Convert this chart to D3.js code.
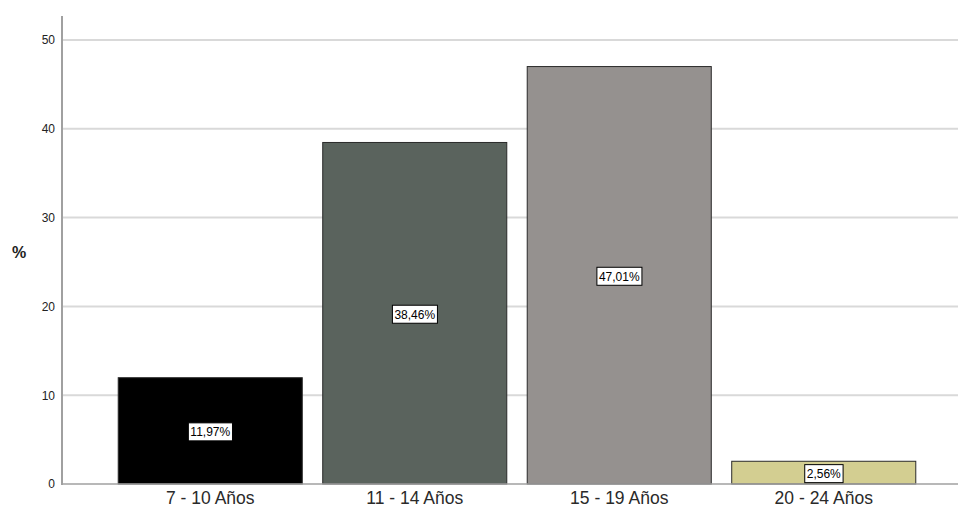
<!DOCTYPE html>
<html><head><meta charset="utf-8">
<script src="https://cdn.jsdelivr.net/npm/d3@7"></script>
<style>body{margin:0;background:#fff;}svg{display:block;font-family:"Liberation Sans",Arial,sans-serif;}</style>
</head><body>
<svg id="chart" width="958" height="508"></svg>
<script>
const categories = ["7 - 10 Años", "11 - 14 Años", "15 - 19 Años", "20 - 24 Años"];
const values = [11.97, 38.46, 47.01, 2.56];
const labels = ["11,97%", "38,46%", "47,01%", "2,56%"];
const colors = ["#000000", "#5a635d", "#95918f", "#d3ce91"];
const yTicks = [0, 10, 20, 30, 40, 50];

const svg = d3.select("#chart");
const x = d3.scaleBand().domain(categories).range([108, 926]).paddingInner(0.1).paddingOuter(0.05);
const y = d3.scaleLinear().domain([0, 50]).range([484, 40]);

// gridlines
svg.append("g").selectAll("line").data(yTicks.filter(d => d > 0)).join("line")
  .attr("x1", 62).attr("x2", 958).attr("y1", d => y(d)).attr("y2", d => y(d))
  .attr("stroke", "#d9d9d9").attr("stroke-width", 2);

// y axis
const yAxis = svg.append("g").attr("transform", "translate(62,0)")
  .call(d3.axisLeft(y).tickValues(yTicks).tickSize(0).tickPadding(7));
yAxis.select(".domain").remove();
yAxis.selectAll("text").attr("font-size", 12).attr("fill", "#222").attr("font-family", "Liberation Sans, Arial, sans-serif");
svg.append("line").attr("x1", 62).attr("x2", 62).attr("y1", 16).attr("y2", 485)
  .attr("stroke", "#a0a0a0").attr("stroke-width", 2);

// bars
svg.append("g").selectAll("rect").data(values).join("rect")
  .attr("x", (d, i) => x(categories[i]))
  .attr("y", d => y(d))
  .attr("width", x.bandwidth())
  .attr("height", d => y(0) - y(d))
  .attr("fill", (d, i) => colors[i])
  .attr("stroke", "#2a2a2a").attr("stroke-width", 1);

// baseline
svg.append("line").attr("x1", 62).attr("x2", 958).attr("y1", y(0)).attr("y2", y(0))
  .attr("stroke", "#a0a0a0").attr("stroke-width", 1.5);

// x labels
const xAxis = svg.append("g").attr("transform", `translate(0,${y(0)})`)
  .call(d3.axisBottom(x).tickSize(0).tickPadding(8));
xAxis.select(".domain").remove();
xAxis.selectAll("text").attr("font-size", 17.5).attr("fill", "#2a2a2a").attr("font-family", "Liberation Sans, Arial, sans-serif");

// value labels
const lg = svg.append("g").selectAll("g").data(values).join("g")
  .attr("transform", (d, i) => `translate(${x(categories[i]) + x.bandwidth() / 2},${(y(d) + y(0)) / 2 + 1})`);
lg.each(function(d, i) {
  const g = d3.select(this);
  const t = g.append("text").text(labels[i]).attr("text-anchor", "middle").attr("dy", "0.36em")
    .attr("font-size", 12).attr("fill", "#000");
  const bb = t.node().getBBox();
  g.insert("rect", "text").attr("x", bb.x - 2).attr("y", -9).attr("width", bb.width + 4).attr("height", 18)
    .attr("fill", "#fff").attr("stroke", "#000").attr("stroke-width", 1);
});

// y title
svg.append("text").attr("x", 19).attr("y", 258).attr("text-anchor", "middle")
  .attr("font-size", 16).attr("font-weight", "bold").attr("fill", "#222").text("%");
</script>
</body></html>
